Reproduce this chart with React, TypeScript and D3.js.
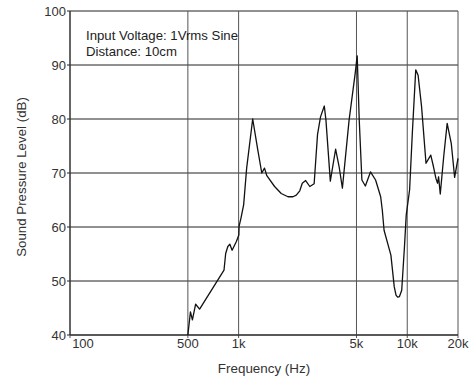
import React from "react";
import * as d3 from "d3";

const freqs = [500, 518, 532, 556, 587, 819, 838, 863, 887, 915, 970, 1003, 1006, 1032, 1071, 1116, 1212, 1299, 1372, 1424, 1470, 1634, 1789, 1962, 2101, 2198, 2305, 2385, 2497, 2644, 2805, 2833, 2937, 3060, 3222, 3295, 3498, 3760, 3943, 4125, 4520, 4910, 5049, 5192, 5384, 5645, 6052, 6490, 6958, 7115, 7287, 8000, 8377, 8578, 8772, 8980, 9274, 9630, 9862, 10330, 10720, 11230, 11600, 12160, 12920, 13790, 14300, 14790, 15130, 15340, 15700, 16450, 17250, 18240, 19100, 20000];
const spl = [40, 44.3, 42.8, 45.7, 44.8, 52, 55.1, 56.4, 56.8, 55.7, 57.3, 58.5, 60.1, 61.6, 64.1, 70.9, 80.0, 74.3, 70, 70.9, 69.5, 67.5, 66.2, 65.6, 65.6, 65.9, 66.7, 68.1, 68.6, 67.5, 68, 70, 77.1, 80.4, 82.4, 79.8, 68.5, 74.4, 71.2, 67.2, 79.8, 88.4, 91.7, 79.8, 68.7, 67.6, 70.2, 68.7, 65.6, 63.1, 59.4, 54.8, 48.9, 47.4, 47, 47.1, 48.3, 56.4, 62.2, 66.9, 77.4, 89.1, 88.1, 82.3, 71.8, 73.3, 71.2, 69, 68.1, 69.3, 66.1, 73, 79.2, 75.5, 69.2, 72.7];

const xTicks = [100, 500, 1000, 5000, 10000, 20000];
const xTickLabels = ["100", "500", "1k", "5k", "10k", "20k"];
const yTicks = [40, 50, 60, 70, 80, 90, 100];
const notes = ["Input Voltage: 1Vrms Sine", "Distance: 10cm"];

const W = 470, H = 376;
const L = 70, R = 458, T = 11, B = 335;

export default function App() {
  const x = d3.scaleLog().domain([100, 20000]).range([L, R]);
  const y = d3.scaleLinear().domain([40, 100]).range([B, T]);
  const pts = freqs.map((f, i) => [x(f), y(spl[i])] as [number, number]);
  const line = d3.line().curve(d3.curveLinear)(pts) || "";
  const font = "'Liberation Sans', Arial, Helvetica, sans-serif";
  return (
    <svg width={W} height={H} style={{ position: "absolute", left: 0, top: 0, background: "#fff" }} fontFamily={font}>
      {yTicks.map((t) => (
        <line key={"h" + t} x1={L - 3} x2={R} y1={y(t)} y2={y(t)} stroke="#222" strokeWidth={1} />
      ))}
      {xTicks.map((t) => (
        <line key={"v" + t} x1={x(t)} x2={x(t)} y1={T} y2={B + 3} stroke="#555" strokeWidth={1} />
      ))}
      <line x1={L} x2={L} y1={T} y2={B} stroke="#222" strokeWidth={1} />
      <line x1={L} x2={R} y1={B} y2={B} stroke="#222" strokeWidth={1} />
      <path d={line} fill="none" stroke="#111" strokeWidth={1.3} strokeLinejoin="round" />
      {yTicks.map((t) => (
        <text key={"yl" + t} x={L - 4} y={y(t)} dy="0.35em" textAnchor="end" fontSize={13} fill="#333">{t}</text>
      ))}
      {xTicks.map((t, i) => (
        <text key={"xl" + t} x={i === 0 ? x(t) + 13 : x(t)} y={348} textAnchor="middle" fontSize={13} fill="#333">{xTickLabels[i]}</text>
      ))}
      {notes.map((n, i) => (
        <text key={n} x={86} y={40 + i * 15.5} fontSize={13.2} fill="#222">{n}</text>
      ))}
      <text x={(L + R) / 2} y={372.5} textAnchor="middle" fontSize={13.4} fill="#333">Frequency (Hz)</text>
      <text transform={`translate(26,177) rotate(-90)`} textAnchor="middle" fontSize={13.3} fill="#333">Sound Pressure Level (dB)</text>
    </svg>
  );
}
